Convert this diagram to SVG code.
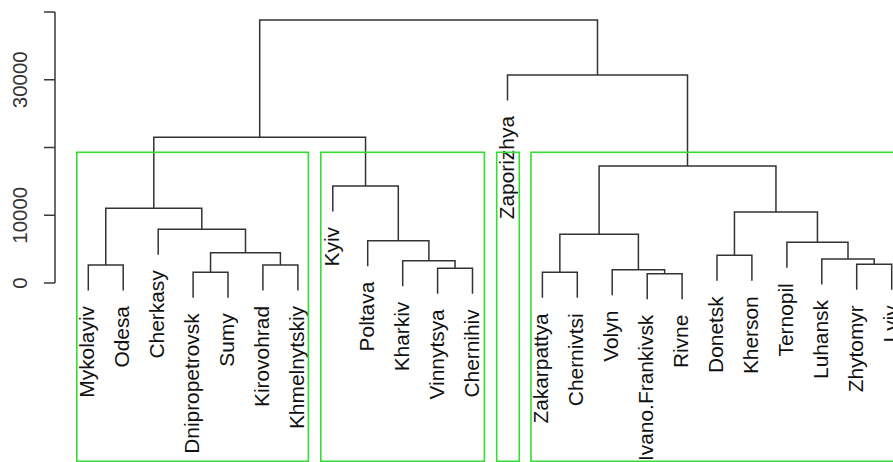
<svg xmlns="http://www.w3.org/2000/svg" width="893" height="462" viewBox="0 0 893 462">
<style>
.bg{fill:#ffffff}
.ax{stroke:#3a3a3a;stroke-width:1.5;fill:none}
.axt{font-family:"Liberation Sans",Arial,sans-serif;font-size:20.5px;fill:#333;text-anchor:middle}
.br{stroke:#333;stroke-width:1.5;fill:none}
.box{stroke:#33dd33;stroke-width:1.6;fill:none}
.lb{font-family:"Liberation Sans",Arial,sans-serif;font-size:20.9px;fill:#111;text-anchor:end}
</style>
<rect class="bg" x="0" y="0" width="893" height="462"/>
<g id="axis">
<path class="ax" d="M55 12 V283 M44 283 H55 M44 215.25 H55 M44 147.5 H55 M44 79.75 H55 M44 12 H55"/>
<text class="axt" transform="translate(26.7 283) rotate(-90)">0</text>
<text class="axt" transform="translate(26.7 215.25) rotate(-90)">10000</text>
<text class="axt" transform="translate(26.7 79.75) rotate(-90)">30000</text>
</g>
<g id="connectors">
<path class="br" d="M88.3 290.5 V265 H123.2 V290.5"/>
<path class="br" d="M193.1 297.8 V272.3 H228 V297.8"/>
<path class="br" d="M262.9 290.5 V265 H297.9 V290.5"/>
<path class="br" d="M210.55 272.3 V252.7 H280.4 V265"/>
<path class="br" d="M158.2 254.8 V229.3 H245.5 V252.7"/>
<path class="br" d="M105.75 265 V208.3 H201.8 V229.3"/>
<path class="br" d="M437.6 293.8 V268.3 H472.5 V293.8"/>
<path class="br" d="M402.7 286.2 V260.7 H455.05 V268.3"/>
<path class="br" d="M367.7 266.2 V240.7 H428.9 V260.7"/>
<path class="br" d="M332.8 211.5 V186 H398.3 V240.7"/>
<path class="br" d="M153.8 208.3 V137.3 H365.55 V186"/>
<path class="br" d="M542.4 297.8 V272.3 H577.3 V297.8"/>
<path class="br" d="M647.2 299.2 V273.7 H682.1 V299.2"/>
<path class="br" d="M612.2 295.2 V269.7 H664.65 V273.7"/>
<path class="br" d="M559.85 272.3 V234.3 H638.4 V269.7"/>
<path class="br" d="M717 280.8 V255.3 H751.9 V280.8"/>
<path class="br" d="M856.7 289.8 V264.3 H891.7 V289.8"/>
<path class="br" d="M821.8 284.5 V259 H874.2 V264.3"/>
<path class="br" d="M786.9 267.8 V242.3 H848 V259"/>
<path class="br" d="M734.45 255.3 V212 H817.45 V242.3"/>
<path class="br" d="M599.1 234.3 V166 H775.95 V212"/>
<path class="br" d="M507.5 100.5 V75 H687.5 V166"/>
<path class="br" d="M259.7 137.3 V20 H597.5 V75"/>
</g>
<g id="leaves">
<g id="n-mykolayiv"><text class="lb" transform="translate(94.3 306) rotate(-90)">Mykolayiv</text></g>
<g id="n-odesa"><text class="lb" transform="translate(129.2 306) rotate(-90)">Odesa</text></g>
<g id="n-cherkasy"><text class="lb" transform="translate(164.2 270.3) rotate(-90)">Cherkasy</text></g>
<g id="n-dnipropetrovsk"><text class="lb" transform="translate(199.1 313.3) rotate(-90)">Dnipropetrovsk</text></g>
<g id="n-sumy"><text class="lb" transform="translate(234 313.3) rotate(-90)">Sumy</text></g>
<g id="n-kirovohrad"><text class="lb" transform="translate(268.9 306) rotate(-90)">Kirovohrad</text></g>
<g id="n-khmelnytskiy"><text class="lb" transform="translate(303.9 306) rotate(-90)">Khmelnytskiy</text></g>
<g id="n-kyiv"><text class="lb" transform="translate(338.8 227) rotate(-90)">Kyiv</text></g>
<g id="n-poltava"><text class="lb" transform="translate(373.7 281.7) rotate(-90)">Poltava</text></g>
<g id="n-kharkiv"><text class="lb" transform="translate(408.7 301.7) rotate(-90)">Kharkiv</text></g>
<g id="n-vinnytsya"><text class="lb" transform="translate(443.6 309.3) rotate(-90)">Vinnytsya</text></g>
<g id="n-chernihiv"><text class="lb" transform="translate(478.5 309.3) rotate(-90)">Chernihiv</text></g>
<g id="n-zaporizhya"><text class="lb" transform="translate(513.5 116) rotate(-90)">Zaporizhya</text></g>
<g id="n-zakarpattya"><text class="lb" transform="translate(548.4 313.3) rotate(-90)">Zakarpattya</text></g>
<g id="n-chernivtsi"><text class="lb" transform="translate(583.3 313.3) rotate(-90)">Chernivtsi</text></g>
<g id="n-volyn"><text class="lb" transform="translate(618.2 310.7) rotate(-90)">Volyn</text></g>
<g id="n-ivano"><text class="lb" transform="translate(653.2 314.7) rotate(-90)">Ivano.Frankivsk</text></g>
<g id="n-rivne"><text class="lb" transform="translate(688.1 314.7) rotate(-90)">Rivne</text></g>
<g id="n-donetsk"><text class="lb" transform="translate(723 296.3) rotate(-90)">Donetsk</text></g>
<g id="n-kherson"><text class="lb" transform="translate(757.9 296.3) rotate(-90)">Kherson</text></g>
<g id="n-ternopil"><text class="lb" transform="translate(792.9 283.3) rotate(-90)">Ternopil</text></g>
<g id="n-luhansk"><text class="lb" transform="translate(827.8 300) rotate(-90)">Luhansk</text></g>
<g id="n-zhytomyr"><text class="lb" transform="translate(862.7 305.3) rotate(-90)">Zhytomyr</text></g>
<g id="n-lviv"><text class="lb" transform="translate(897.7 305.3) rotate(-90)">Lviv</text></g>
</g>
<g id="clusters">
<rect id="cl1" class="box" x="76.8" y="152.3" width="231.6" height="309"/>
<rect id="cl2" class="box" x="320.8" y="152.3" width="163.6" height="309"/>
<rect id="cl3" class="box" x="496.7" y="152.3" width="22.6" height="309"/>
<rect id="cl4" class="box" x="531" y="152.3" width="380" height="309"/>
</g>
</svg>
